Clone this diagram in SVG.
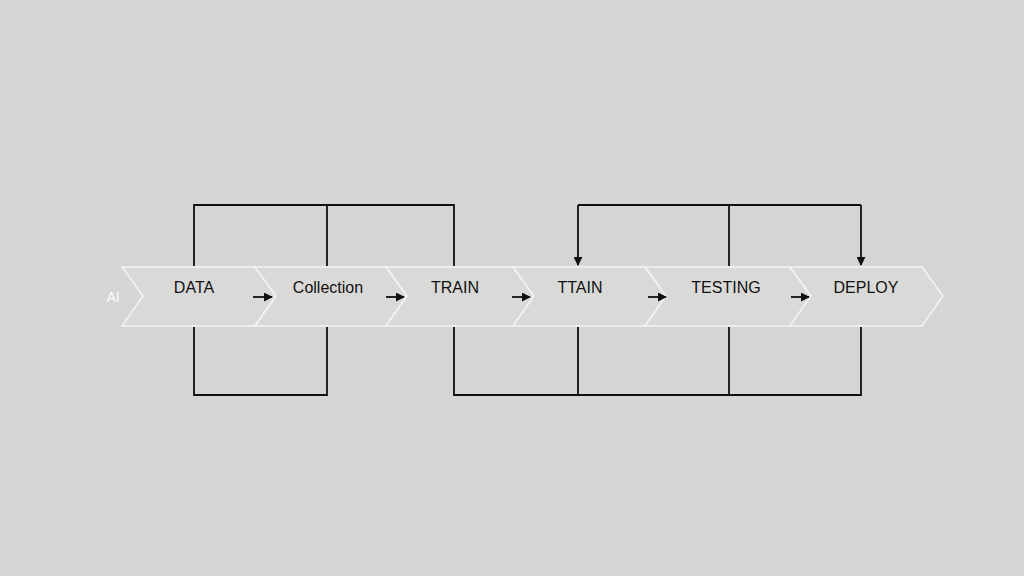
<svg xmlns="http://www.w3.org/2000/svg" width="1024" height="576" viewBox="0 0 1024 576">
<defs>
<style>
.ch{fill:#d9d9d8;stroke:#f4f4f4;stroke-width:1.5}
.t{font-family:"Liberation Sans",Arial,sans-serif;font-size:16px;fill:#111;text-anchor:middle}
.ln{fill:none;stroke:#111;stroke-width:1.8}
</style>
<marker id="ah" viewBox="0 0 10 10" refX="9" refY="5" markerWidth="5" markerHeight="5" orient="auto"><path d="M0,0L10,5L0,10z" fill="#111"/></marker>
</defs>
<rect width="1024" height="576" fill="#d5d5d4"/>
<text x="113" y="302" font-family="Liberation Sans,Arial,sans-serif" font-size="14" fill="#fff" text-anchor="middle">AI</text>
<g id="n1"><path class="ch" d="M122,267H255L276,296L255,326H122L143,296Z"/><text class="t" x="194" y="293">DATA</text></g>
<g id="n2"><path class="ch" d="M255,267H386L407,296L386,326H255L276,296Z"/><text class="t" x="328" y="293">Collection</text></g>
<g id="n3"><path class="ch" d="M386,267H513L534,296L513,326H386L407,296Z"/><text class="t" x="455" y="293">TRAIN</text></g>
<g id="n4"><path class="ch" d="M513,267H645L666,296L645,326H513L534,296Z"/><text class="t" x="580" y="293">TTAIN</text></g>
<g id="n5"><path class="ch" d="M645,267H790L811,296L790,326H645L666,296Z"/><text class="t" x="726" y="293">TESTING</text></g>
<g id="n6"><path class="ch" d="M790,267H922L943,296L922,326H790L811,296Z"/><text class="t" x="866" y="293">DEPLOY</text></g>
<g id="connectors">
<path class="ln" d="M194,266V205H454V266M327,205V266"/>
<path class="ln" d="M194,327V395H327V327"/>
<path class="ln" d="M454,327V395H861V327M578,395V327M729,395V327"/>
<path class="ln" d="M729,266V205M578,205H861"/>
<path class="ln" d="M578,205V265" marker-end="url(#ah)"/>
<path class="ln" d="M861,205V265" marker-end="url(#ah)"/>
<path class="ln" stroke-width="2.2" d="M253,297H272" marker-end="url(#ah)"/>
<path class="ln" stroke-width="2.2" d="M386,297H404" marker-end="url(#ah)"/>
<path class="ln" stroke-width="2.2" d="M512,297H530" marker-end="url(#ah)"/>
<path class="ln" stroke-width="2.2" d="M648,297H666" marker-end="url(#ah)"/>
<path class="ln" stroke-width="2.2" d="M791,297H809" marker-end="url(#ah)"/>
</g>
</svg>
